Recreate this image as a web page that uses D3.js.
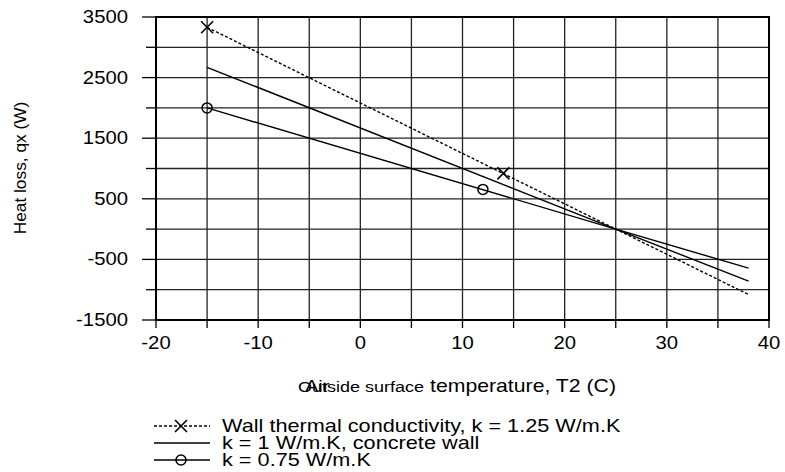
<!DOCTYPE html>
<html><head><meta charset="utf-8">
<script src="https://cdn.jsdelivr.net/npm/d3@7"></script>
<style>body{margin:0;background:#fff}svg{display:block}text{font-family:"Liberation Sans",Arial,sans-serif;fill:#000}</style>
</head><body><svg id="c" width="785" height="472"></svg>
<script>
const temps = [-15, 25, 38];
const qK125 = [3330, 0, -1080];
const qK100 = [2670, 0, -860];
const qK075 = [2000, 0, -645];
const markK125T = [-15, 14], markK125Q = [3330, 920];
const markK075T = [-15, 12], markK075Q = [2000, 655];
const xTickLabels = [-20, -10, 0, 10, 20, 30, 40];
const yTickLabels = [-1500, -500, 500, 1500, 2500, 3500];
const legendLabels = ["Wall thermal conductivity, k = 1.25 W/m.K", "k = 1 W/m.K,  concrete wall", "k = 0.75 W/m.K"];

const svg = d3.select("#c");
const L = 156, R = 769, T = 17, B = 320;
const x = d3.scaleLinear().domain([-20, 40]).range([L, R]);
const y = d3.scaleLinear().domain([-1500, 3500]).range([B, T]);

// stretched text helper
function stext(px, py, str, size, sx, anchor) {
  const t = svg.append("text").attr("transform", `translate(${px},${py}) scale(${sx},1)`)
    .attr("font-size", size).text(str);
  if (anchor) t.attr("text-anchor", anchor);
  return t;
}

// grid
const g = svg.append("g");
g.selectAll("line.v").data(d3.range(-15, 40, 5)).enter().append("line")
  .attr("x1", d => x(d)).attr("x2", d => x(d)).attr("y1", T).attr("y2", B)
  .attr("stroke", "#222").attr("stroke-width", 1.3);
g.selectAll("line.h").data(d3.range(-1000, 3500, 500)).enter().append("line")
  .attr("y1", d => y(d)).attr("y2", d => y(d)).attr("x1", L).attr("x2", R)
  .attr("stroke", "#222").attr("stroke-width", 1.3);

// y ticks
svg.selectAll("line.yt").data(d3.range(-1500, 3501, 500)).enter().append("line")
  .attr("x1", d => yTickLabels.includes(d) ? 142 : 146).attr("x2", L)
  .attr("y1", d => y(d)).attr("y2", d => y(d)).attr("stroke", "#000").attr("stroke-width", 1.3);
yTickLabels.forEach(d => stext(128, y(d) + 6, d, 17.5, 1.16, "end"));
// x ticks
svg.selectAll("line.xt").data(d3.range(-20, 40.1, 5)).enter().append("line")
  .attr("x1", d => x(d)).attr("x2", d => x(d)).attr("y1", B).attr("y2", 328)
  .attr("stroke", "#000").attr("stroke-width", 1.3);
xTickLabels.forEach(d => stext(x(d), 349, d, 17.5, 1.16, "middle"));

// frame
svg.append("rect").attr("x", L).attr("y", T).attr("width", R - L).attr("height", B - T)
  .attr("fill", "none").attr("stroke", "#000").attr("stroke-width", 2);

// lines
const line = d3.line().x(d => x(d[0])).y(d => y(d[1]));
const series = [
  {q: qK125, dash: "3,2"},
  {q: qK100, dash: null},
  {q: qK075, dash: null}
];
series.forEach(s => {
  svg.append("path").datum(temps.map((t, i) => [t, s.q[i]]))
    .attr("d", line).attr("fill", "none").attr("stroke", "#000").attr("stroke-width", 1.4)
    .attr("stroke-dasharray", s.dash);
});
function cross(cx, cy) {
  svg.append("path").attr("d", `M${cx-6},${cy-6}L${cx+6},${cy+6}M${cx-6},${cy+6}L${cx+6},${cy-6}`)
    .attr("stroke", "#000").attr("stroke-width", 1.6).attr("fill", "none");
}
function circ(cx, cy) {
  svg.append("circle").attr("cx", cx).attr("cy", cy).attr("r", 5)
    .attr("fill", "#fff").attr("fill-opacity", 0).attr("stroke", "#000").attr("stroke-width", 1.5);
}
markK125T.forEach((t, i) => cross(x(t), y(markK125Q[i])));
markK075T.forEach((t, i) => circ(x(t), y(markK075Q[i])));

// axis titles
svg.append("text").attr("transform", "translate(26,168) rotate(-90) scale(1.05,1)")
  .attr("text-anchor", "middle").attr("font-size", 16.5).text("Heat loss, qx (W)");
stext(298, 392, "Outside surface", 15, 1.2);
stext(305, 392, "Air", 17, 1.18);
stext(430, 392, "temperature, T2 (C)", 18, 1.18);

// legend
const ly = [426, 443, 460];
legendLabels.forEach((lab, i) => {
  svg.append("line").attr("x1", 154).attr("x2", 210).attr("y1", ly[i]).attr("y2", ly[i])
    .attr("stroke", "#000").attr("stroke-width", 1.4).attr("stroke-dasharray", i === 0 ? "3,2" : null);
  if (i === 0) cross(181, ly[i]);
  if (i === 2) circ(181, ly[i]);
  stext(222, ly[i] + 6, lab, 17.5, 1.24);
});
</script></body></html>
